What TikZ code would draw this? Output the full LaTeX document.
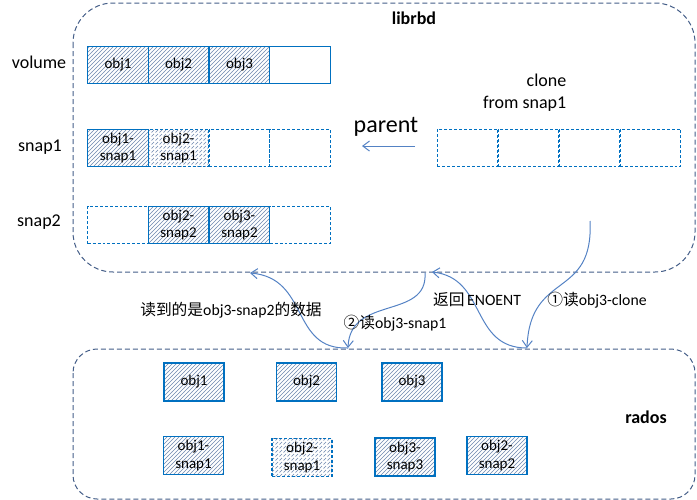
\documentclass[tikz,border=0pt]{standalone}
\usepackage{fontspec}
\setmainfont{Carlito}
\newfontfamily\cjk{Noto Sans CJK SC}
\usepackage{tikz}
\usetikzlibrary{patterns,arrows.meta}
\definecolor{cellblue}{RGB}{0,112,192}
\definecolor{boxline}{RGB}{68,94,136}
\definecolor{arrowblue}{RGB}{84,130,196}
\definecolor{hatch}{RGB}{110,135,175}

\begin{document}
\begin{tikzpicture}[x=0.75pt, y=-0.75pt,
  cell/.style={draw=cellblue, line width=1pt, minimum width=45.4pt, minimum height=27.75pt,
    inner sep=0pt, outer sep=0pt, align=center, font=\fontsize{11.25}{13}\selectfont},
  dcell/.style={cell, dash pattern=on 2.2pt off 1.5pt},
  obox/.style={cell, minimum width=45pt, minimum height=28.5pt},
  full/.style={pattern=north east lines, pattern color=hatch},
  frame/.style={draw=boxline, line width=0.75pt, dash pattern=on 3.75pt off 2.25pt},
  rowlbl/.style={font=\fontsize{13.5}{16.5}\selectfont},
  title/.style={font=\bfseries\fontsize{13.5}{16}\selectfont},
  note/.style={font=\fontsize{11.8}{14}\selectfont},
  link/.style={draw=arrowblue, line width=0.75pt, -{Straight Barb[length=5pt,width=7.5pt]}}]

\useasboundingbox (0,0) rectangle (697,500);

% the two layers
\draw [frame, rounded corners=30pt] (73,3) rectangle (695,272);
\draw [frame, rounded corners=18pt] (73,349) rectangle (695,499);

\node [title] (librbd) at (414,18) {librbd};
\node [title] (rados) at (646,417) {rados};

\node [rowlbl] (volume) at (39,62) {volume};
\node [rowlbl] (snapA) at (40,147) {snap1};
\node [rowlbl] (snapB) at (39,222) {snap2};

% volume
\node [cell, full] (v1) at (118,65) {obj1};
\node [cell, full] (v2) at (178.5,65) {obj2};
\node [cell, full] (v3) at (239.5,65) {obj3};
\node [cell] (v4) at (300,65) {};

% snap1
\node [dcell] (p3) at (239.5,148) {};
\node [dcell] (p4) at (300,148) {};
\node [dcell, full] (p2) at (178.5,148) {obj2-\\snap1};
\node [cell, full] (p1) at (118,148) {obj1-\\snap1};

% snap2
\node [dcell] (q1) at (118,225) {};
\node [dcell] (q4) at (300,225) {};
\node [cell, full] (q2) at (178.5,225) {obj2-\\snap2};
\node [cell, full] (q3) at (239.5,225) {obj3-\\snap2};

% clone
\node [rowlbl, align=right, anchor=east] (clone) at (571,93) {clone\\from snap1};
\node [dcell] (c1) at (467.5,148) {};
\node [dcell] (c2) at (528.5,148) {};
\node [dcell] (c3) at (589.5,148) {};
\node [dcell] (c4) at (650.5,148) {};

\node [font=\fontsize{18}{22}\selectfont] (parent) at (386,127) {parent};
\coordinate (pa) at (415,146);
\coordinate (pb) at (362,146);
\draw [link] (pa) -- (pb);

% rados objects
\node [obox, full] (r1) at (194,382) {obj1};
\node [obox, full] (r2) at (306.5,382) {obj2};
\node [obox, full] (r3) at (412,382) {obj3};
\node [obox, full] (r4) at (193.5,455.5) {obj1-\\snap1};
\node [obox, full, dash pattern=on 2.2pt off 1.5pt] (r5) at (302,457.5) {obj2-\\snap1};
\node [obox, full] (r6) at (405,457) {obj3-\\snap3};
\node [obox, full] (r7) at (497,455.5) {obj2-\\snap2};

% reads
\coordinate (la) at (590,221);
\coordinate (ra) at (527,348);
\coordinate (lb) at (432,272);
\coordinate (lc) at (425,273);
\coordinate (rb) at (348,348);
\coordinate (ld) at (250,273);

\draw [link] (la) .. controls (594,300) and (530,270) .. (ra);
\draw [link] (ra) .. controls (470,348) and (487,278) .. (lb);
\draw [link] (lc) .. controls (428,320) and (350,295) .. (rb);
\draw [link] (rb) .. controls (290,350) and (310,278) .. (ld);

\node [note] (n1) at (231,310) {{\cjk 读到的是}obj3-snap2{\cjk 的数据}};
\node [note] (n2) at (395,323) {{\cjk ②读}obj3-snap1};
\node [note] (n3) at (477,300) {{\cjk 返回}\,ENOENT};
\node [note] (n4) at (597,300) {{\cjk ①读}obj3-clone};
\end{tikzpicture}
\end{document}
